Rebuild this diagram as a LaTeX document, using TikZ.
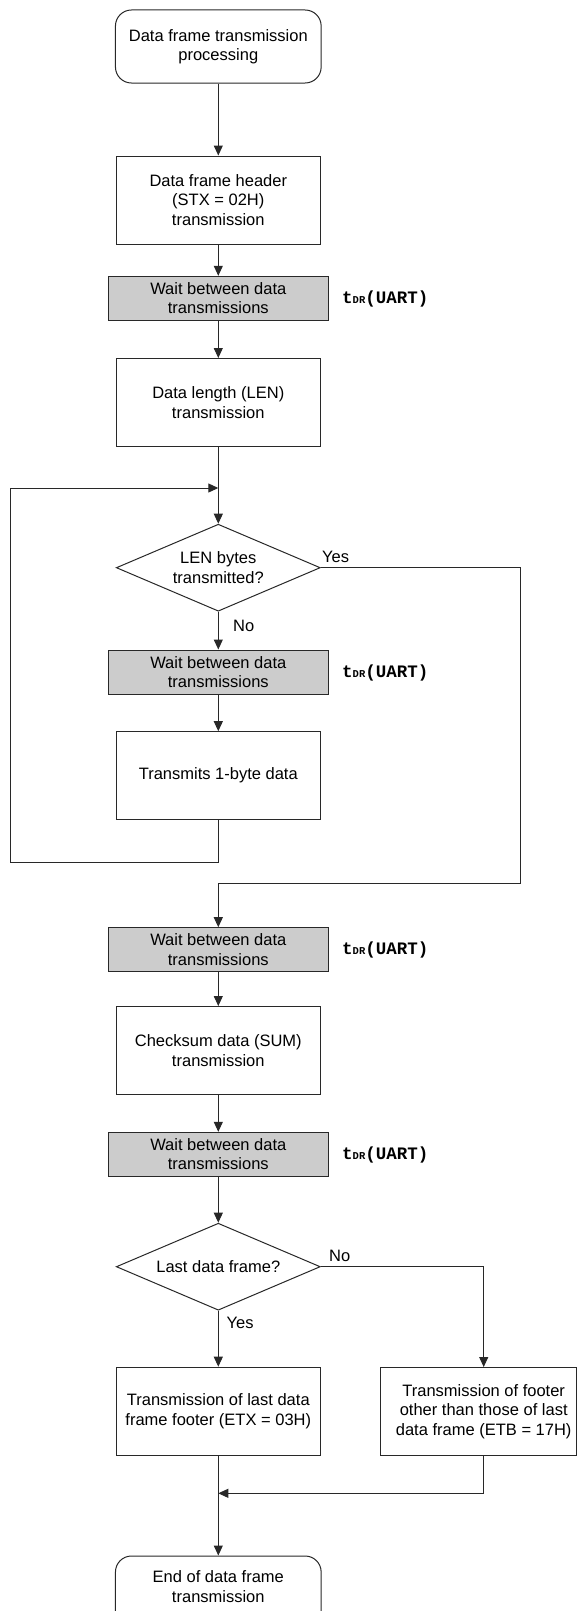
\documentclass[tikz,border=0pt]{standalone}
\usepackage{fontspec}
\setmainfont{Liberation Sans}
\setmonofont{Liberation Mono}
\usetikzlibrary{shapes.geometric,arrows.meta}
\definecolor{waitgray}{RGB}{204,204,204}
\definecolor{linec}{RGB}{40,40,40}
\newcommand{\tdrtext}{{\ttfamily\bfseries\fontsize{17.5}{20}\selectfont t{\fontsize{10.5}{12}\selectfont DR}(UART)}}
\begin{document}
\begin{tikzpicture}[x=1pt,y=-1pt,
  every node/.style={font=\fontsize{16.5}{19.5}\selectfont, inner sep=0pt, align=center, text=black},
  procbox/.style={draw=linec, line width=1pt, fill=white, minimum width=204, minimum height=88},
  waitbox/.style={draw=linec, line width=1pt, fill=waitgray, minimum width=219.7, minimum height=44},
  termbox/.style={draw=linec, line width=1pt, fill=white, rounded corners=16pt, minimum width=205.7, minimum height=73},
  decbox/.style={draw=linec, line width=1pt, fill=white, diamond, aspect=2.345, minimum width=204, minimum height=87},
  arr/.style={draw=linec, line width=1pt, -{Triangle[length=10pt,width=9pt]}},
  plain/.style={draw=linec, line width=1pt},
  lbl/.style={anchor=west},
  tdr/.style={anchor=west}]
\useasboundingbox (0,0) rectangle (577,1611);
\fill[white] (0,0) rectangle (577,1611);

% nodes
\node[termbox] (s) at (218.3,46.5) {Data frame transmission\\processing};
\node[procbox] (b1) at (218.3,200) {Data frame header\\(STX = 02H)\\transmission};
\node[waitbox] (w1) at (218.3,298.3) {Wait between data\\transmissions};
\node[tdr] (t1) at (342,299) {\tdrtext};
\node[procbox] (b2) at (218.3,402.5) {Data length (LEN)\\transmission};
\coordinate (j1) at (218.3,488);
\node[decbox] (d1) at (218.3,567.7) {LEN bytes\\transmitted?};
\node[lbl] (yes1) at (322,557) {Yes};
\node[lbl] (no1) at (233,626) {No};
\node[waitbox] (w2) at (218.3,672) {Wait between data\\transmissions};
\node[tdr] (t2) at (342,673) {\tdrtext};
\node[procbox] (b3) at (218.3,775.7) {Transmits 1-byte data};
\node[waitbox] (w3) at (218.3,949.7) {Wait between data\\transmissions};
\node[tdr] (t3) at (342,950) {\tdrtext};
\node[procbox] (b4) at (218.3,1050.5) {Checksum data (SUM)\\transmission};
\node[waitbox] (w4) at (218.3,1154.3) {Wait between data\\transmissions};
\node[tdr] (t4) at (342,1155) {\tdrtext};
\node[decbox] (d2) at (218.3,1266.7) {Last data frame?};
\node[lbl] (no2) at (329,1256) {No};
\node[lbl] (yes2) at (226.5,1323) {Yes};
\node[procbox] (b5) at (218.3,1411.2) {Transmission of last data\\frame footer (ETX = 03H)};
\node[procbox, minimum width=195.6] (f2) at (478.6,1411.2) {};
\node (f2t) at (483.7,1411.7) {Transmission of footer\\other than those of last\\data frame (ETB = 17H)};
\node[termbox] (e) at (218.3,1592.5) {};
\node (et) at (218.3,1586.7) {End of data frame\\transmission};

% helper coordinates
\coordinate (lpb) at (218.3,862);
\coordinate (lpl) at (10.5,862);
\coordinate (lpt) at (10.5,488);
\coordinate (yr) at (520.3,567.7);
\coordinate (yb) at (520.3,883.7);
\coordinate (ym) at (218.3,883.7);
\coordinate (nr) at (483.7,1266.7);
\coordinate (nb) at (483.7,1367);
\coordinate (mb) at (483.7,1455.3);
\coordinate (mr) at (483.7,1493.3);
\coordinate (ml) at (218.3,1493.3);

% connectors
\draw[arr] (s) -- (b1);
\draw[arr] (b1) -- (w1);
\draw[arr] (w1) -- (b2);
\draw[arr] (b2) -- (d1);
\draw[arr] (b3.south) -- (lpb) -- (lpl) -- (lpt) -- (j1);
\draw[arr] (d1) -- (w2);
\draw[arr] (w2) -- (b3);
\draw[arr] (d1.east) -- (yr) -- (yb) -- (ym) -- (w3);
\draw[arr] (w3) -- (b4);
\draw[arr] (b4) -- (w4);
\draw[arr] (w4) -- (d2);
\draw[arr] (d2) -- (b5);
\draw[arr] (d2.east) -- (nr) -- (nb);
\draw[arr] (mb) -- (mr) -- (ml);
\draw[arr] (b5) -- (e);
\end{tikzpicture}
\end{document}
